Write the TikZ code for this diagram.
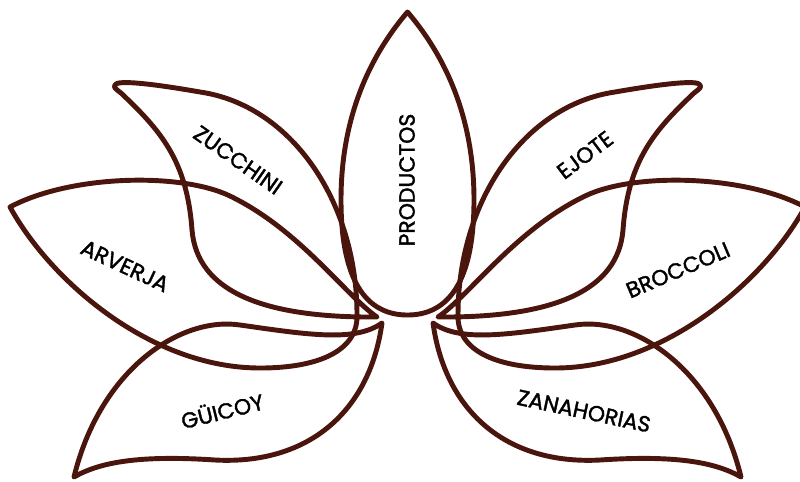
\documentclass[tikz,border=0pt]{standalone}
\usepackage{fontspec}
\setmainfont{Poppins}
\newfontfamily\leaffont{Poppins}[RawFeature={embolden=1.6}]
\definecolor{petalbrown}{RGB}{74,21,12}
\tikzset{
    petal/.style={draw=petalbrown, line width=2.8pt, line join=round},
    leafname/.style={text=black, font=\leaffont\fontsize{12.5}{14}\selectfont, inner sep=0pt},
    % two outer tips joined by one crossing outline
    twinleaf/.pic={
        \draw[petal] (121,93) .. controls (160,130) and (187,160) .. (192,230)
            .. controls (197,290) and (260,318) .. (377,317)
            .. controls (345,295) and (300,230) .. (230,196)
            .. controls (180,172) and (70,175) .. (10,207)
            .. controls (50,280) and (150,368) .. (260,368)
            .. controls (320,368) and (358,350) .. (357,315)
            .. controls (357,200) and (290,105) .. (200,92)
            .. controls (160,85) and (122,80) .. (116,84)
            .. controls (112,87) and (116,89) .. cycle;
    },
    % lower lens
    lowleaf/.pic={
        \draw[petal] (382,323) .. controls (355,342) and (310,335) .. (240,325)
            .. controls (180,316) and (100,370) .. (74,477)
            .. controls (100,462) and (140,455) .. (215,460)
            .. controls (310,465) and (370,410) .. cycle;
    }
}

\begin{document}
\begin{tikzpicture}[x=0.02cm, y=-0.02cm]
    \useasboundingbox (0,0) rectangle (800,481);

    % middle petal
    \draw[petal] (407.5,12) .. controls (375,50) and (341,110) .. (341,200)
        .. controls (341,290) and (372,315) .. (407.5,315)
        .. controls (443,315) and (474,290) .. (474,200)
        .. controls (474,110) and (440,50) .. cycle;

    % left side, then the same mirrored to the right
    \pic at (0,0) {twinleaf};
    \pic at (0,0) {lowleaf};
    \pic[xscale=-1] at (815,0) {twinleaf};
    \pic[xscale=-1] at (815,0) {lowleaf};

    % labels
    \node[leafname, rotate=90] (productos) at (407,180) {PRODUCTOS};
    \node[leafname, rotate=-35] (zucchini) at (238,160) {ZUCCHINI};
    \node[leafname, rotate=-25] (arverja) at (125,266) {ARVERJA};
    \node[leafname, rotate=14] (guicoy) at (222,410) {GÜICOY};
    \node[leafname, rotate=37] (ejote) at (585,155) {EJOTE};
    \node[leafname, rotate=23] (broccoli) at (678,270) {BROCCOLI};
    \node[leafname, rotate=-12] (zanahorias) at (584,411) {ZANAHORIAS};

\end{tikzpicture}
\end{document}
